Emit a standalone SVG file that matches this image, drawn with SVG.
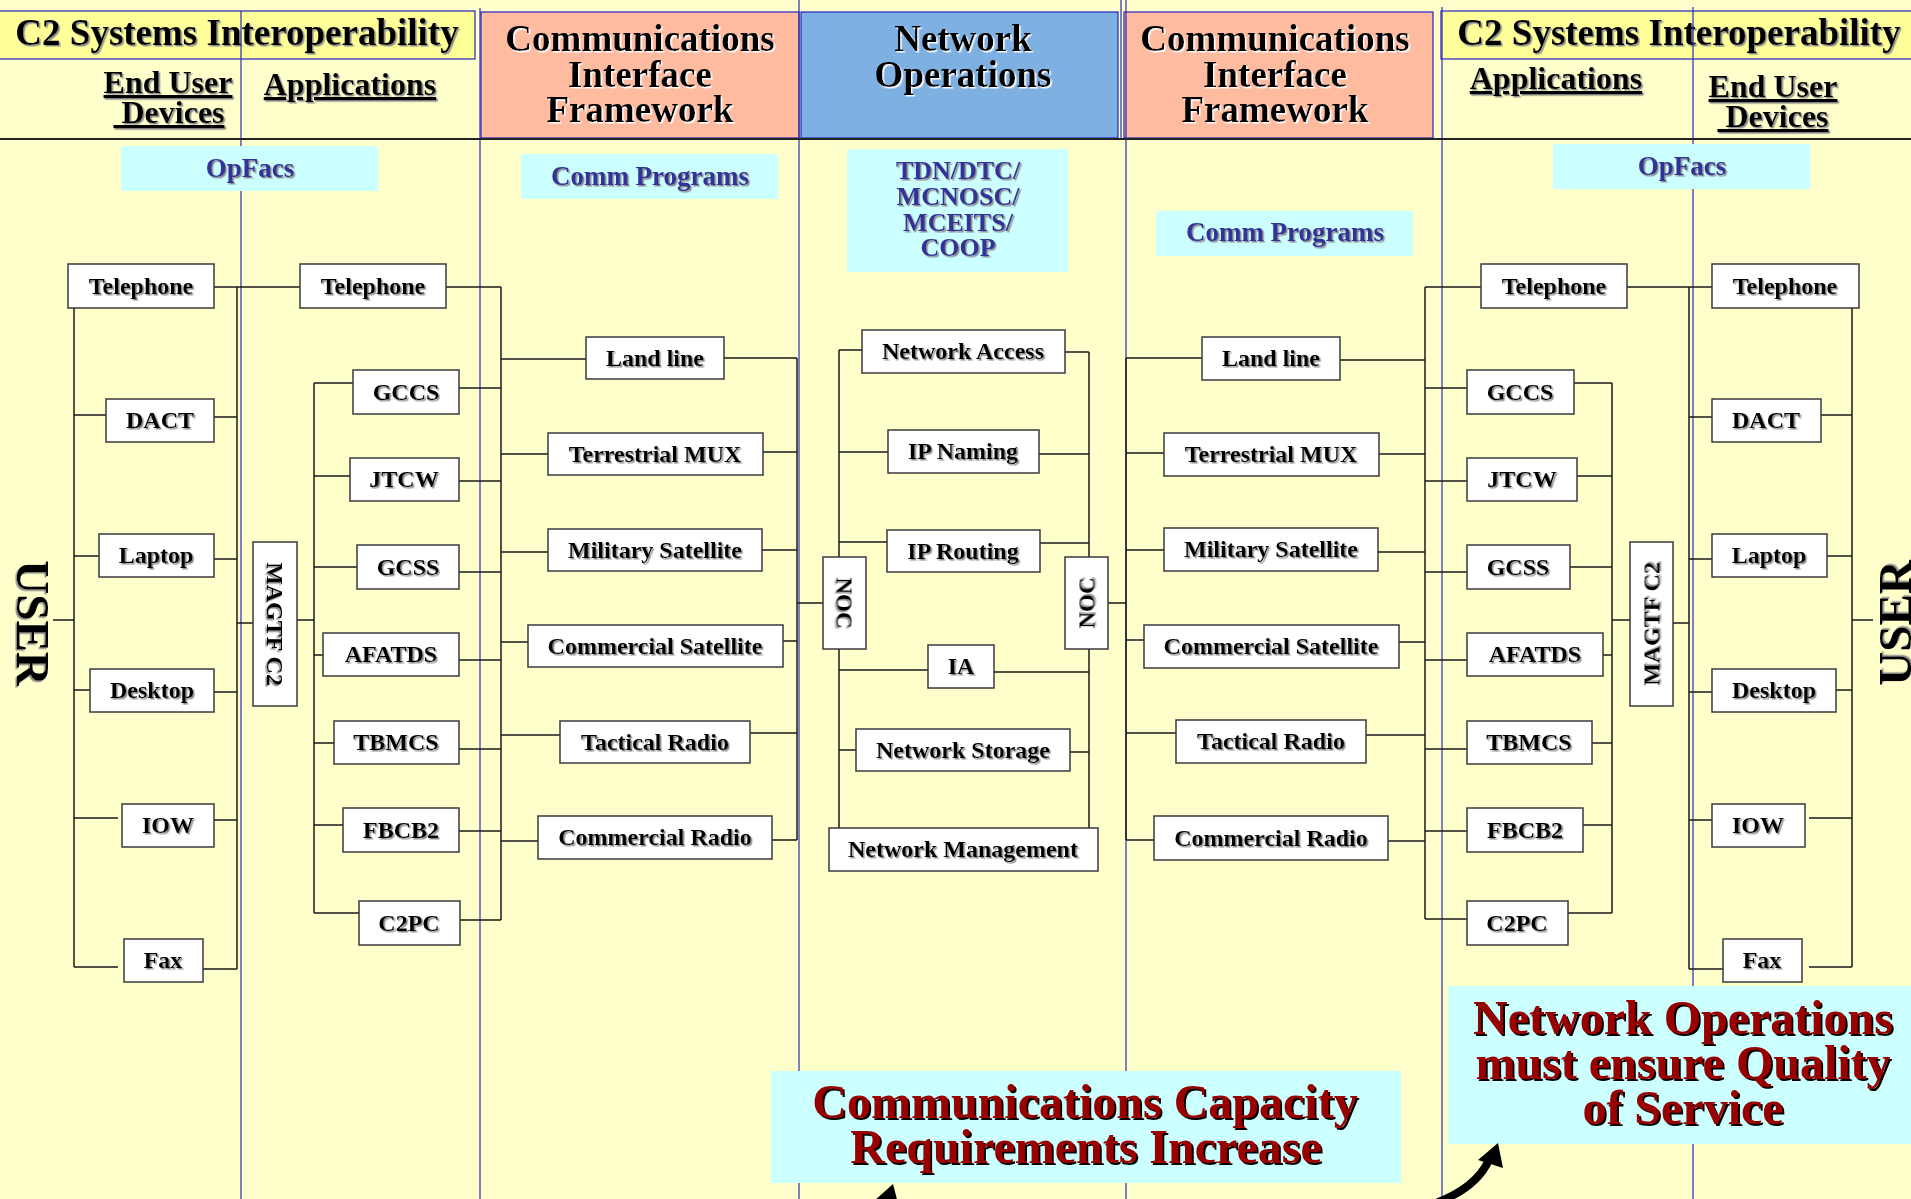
<svg xmlns="http://www.w3.org/2000/svg" width="1911" height="1199" viewBox="0 0 1911 1199">
<style>
.t{font-family:"Liberation Serif","Times New Roman",serif;font-weight:bold;text-anchor:middle}
.lbl{font-size:24px;fill:#000}
.bx{fill:#fff;stroke:#3a3a3a;stroke-width:1.5}
.cn{stroke:#1a1a1a;stroke-width:1.5;fill:none}
.dv{stroke:#2b2bb5;stroke-width:1.2}
.hd{stroke:#2323c0;stroke-width:1.2}
.cy{fill:#ccffff}
.blu{font-size:27px;fill:#333399}
.red{font-size:48px;fill:#990000}
.hdr{font-size:37px;fill:#000}
.sub{font-size:32px;fill:#000;text-decoration:underline}
</style>
<defs>
<filter id="shG" x="-10%" y="-10%" width="120%" height="130%"><feDropShadow dx="1.5" dy="1.5" stdDeviation="0.4" flood-color="#8a8a8a"/></filter>
<filter id="shW" x="-10%" y="-10%" width="120%" height="130%"><feDropShadow dx="1.5" dy="1.5" stdDeviation="0.3" flood-color="#ffffff"/></filter>
<filter id="shB" x="-10%" y="-10%" width="120%" height="130%"><feDropShadow dx="2" dy="2" stdDeviation="0.3" flood-color="#000000"/></filter>
</defs>
<rect x="0" y="0" width="1911" height="1199" fill="#ffffcc"/>

<!-- header cells -->
<g id="hdr-c2-left">
<rect x="-1" y="11" width="476" height="48" fill="#ffff99" class="hd"/>
<text class="t hdr" x="237" y="45" filter="url(#shG)">C2 Systems Interoperability</text>
<text class="t sub" x="168" y="93" filter="url(#shG)">End User</text>
<text class="t sub" x="169" y="123" filter="url(#shG)" style="white-space:pre"> Devices</text>
<text class="t sub" x="350" y="95" filter="url(#shG)">Applications</text>
</g>
<g id="hdr-comm-left">
<rect x="481" y="12" width="318" height="126" fill="#ffbba0" class="hd"/>
<text class="t hdr" x="640" y="51" filter="url(#shW)">Communications</text>
<text class="t hdr" x="640" y="87" filter="url(#shW)">Interface</text>
<text class="t hdr" x="640" y="122" filter="url(#shW)">Framework</text>
</g>
<g id="hdr-netops">
<rect x="801" y="12" width="317" height="126" fill="#7fb0e2" class="hd"/>
<text class="t hdr" x="963" y="51" filter="url(#shW)">Network</text>
<text class="t hdr" x="963" y="87" filter="url(#shW)">Operations</text>
</g>
<g id="hdr-comm-right">
<rect x="1124" y="12" width="309" height="126" fill="#ffbba0" class="hd"/>
<text class="t hdr" x="1275" y="51" filter="url(#shW)">Communications</text>
<text class="t hdr" x="1275" y="87" filter="url(#shW)">Interface</text>
<text class="t hdr" x="1275" y="122" filter="url(#shW)">Framework</text>
</g>
<g id="hdr-c2-right">
<rect x="1441" y="11" width="472" height="48" fill="#ffff99" class="hd"/>
<text class="t hdr" x="1679" y="45" filter="url(#shG)">C2 Systems Interoperability</text>
<text class="t sub" x="1556" y="89" filter="url(#shG)">Applications</text>
<text class="t sub" x="1773" y="97" filter="url(#shG)">End User</text>
<text class="t sub" x="1773" y="127" filter="url(#shG)" style="white-space:pre"> Devices</text>
</g>

<!-- column dividers -->
<g id="dividers">
<line class="dv" x1="241" y1="11" x2="241" y2="1199"/>
<line class="dv" x1="480" y1="8" x2="480" y2="1199"/>
<line class="dv" x1="799" y1="0" x2="799" y2="1199"/>
<line class="dv" x1="1121" y1="0" x2="1121" y2="139"/>
<line class="dv" x1="1126" y1="0" x2="1126" y2="1199"/>
<line class="dv" x1="1442" y1="7" x2="1442" y2="1199"/>
<line class="dv" x1="1693" y1="7" x2="1693" y2="1199"/>
<line x1="0" y1="139" x2="1911" y2="139" stroke="#222" stroke-width="2"/>
</g>

<!-- section labels -->
<g id="opfacs-left"><rect class="cy" x="121" y="146" width="257" height="45"/><text class="t blu" x="250" y="177" filter="url(#shG)">OpFacs</text></g>
<g id="commprog-left"><rect class="cy" x="521" y="154" width="257" height="45"/><text class="t blu" x="650" y="185" filter="url(#shG)">Comm Programs</text></g>
<g id="tdn"><rect class="cy" x="847" y="149" width="221" height="123"/>
<text class="t blu" x="958" y="179" style="font-size:26px" filter="url(#shG)">TDN/DTC/</text>
<text class="t blu" x="958" y="205" style="font-size:26px" filter="url(#shG)">MCNOSC/</text>
<text class="t blu" x="958" y="231" style="font-size:26px" filter="url(#shG)">MCEITS/</text>
<text class="t blu" x="958" y="256" style="font-size:26px" filter="url(#shG)">COOP</text></g>
<g id="commprog-right"><rect class="cy" x="1156" y="211" width="257" height="45"/><text class="t blu" x="1285" y="241" filter="url(#shG)">Comm Programs</text></g>
<g id="opfacs-right"><rect class="cy" x="1553" y="144" width="257" height="45"/><text class="t blu" x="1682" y="175" filter="url(#shG)">OpFacs</text></g>

<!-- connectors -->
<g id="connectors" class="cn">
<path d="M74 308V967M74 415H106M74 556H99M74 690H90M74 818H118M74 967H118M53 620H74"/>
<path d="M237 287V969M214 287H300M214 417H237M214 559H237M214 692H237M214 820H237M203 969H237M237 623H253"/>
<path d="M314 383V913M297 620H314M314 383H353M314 476H350M314 567H357M314 655H323M314 743H334M314 825H343M314 913H359"/>
<path d="M501 287V920M446 287H501M459 388H501M459 481H501M459 572H501M459 660H501M459 749H501M459 831H501M460 920H501"/>
<path d="M501 359H586M501 454H548M501 552H548M501 642H528M501 735H560M501 841H538"/>
<path d="M797 358V840M724 358H797M763 452H797M762 550H797M783 641H797M750 733H797M772 840H797M797 603H823"/>
<path d="M839 350V828M839 350H862M839 452H888M839 542H887M839 670H928M839 750H856"/>
<path d="M1089 352V828M1065 352H1089M1039 454H1089M1040 543H1089M994 672H1089M1070 752H1089M1108 603H1126"/>
<path d="M1126 358V840M1126 358H1202M1126 453H1164M1126 550H1164M1126 640H1144M1126 733H1176M1126 840H1154"/>
<path d="M1425 287V919M1340 360H1425M1379 454H1425M1378 552H1425M1399 642H1425M1366 735H1425M1388 841H1425"/>
<path d="M1425 287H1481M1425 388H1467M1425 481H1467M1425 572H1467M1425 660H1467M1425 749H1467M1425 831H1467M1425 919H1467"/>
<path d="M1612 383V913M1574 383H1612M1577 476H1612M1570 567H1612M1603 655H1612M1592 743H1612M1583 825H1612M1568 913H1612M1612 620H1630"/>
<path d="M1689 287V969M1627 287H1712M1673 623H1689M1689 417H1712M1689 559H1712M1689 692H1712M1689 820H1712M1689 969H1723"/>
<path d="M1852 308V967M1821 415H1852M1827 556H1852M1836 690H1852M1809 818H1852M1809 967H1852M1852 620H1873"/>
</g>

<!-- USER labels -->
<g id="user-left"><text class="t" x="0" y="16" transform="translate(33,623) rotate(90)" style="font-size:47px" filter="url(#shG)">USER</text></g>
<g id="user-right"><text class="t" x="0" y="16" transform="translate(1895,623) rotate(-90)" style="font-size:47px" filter="url(#shG)">USER</text></g>

<!-- left end user devices -->
<g id="dev-l-telephone"><rect class="bx" x="68" y="264" width="146" height="44"/><text class="t lbl" x="141" y="294" filter="url(#shG)">Telephone</text></g>
<g id="dev-l-dact"><rect class="bx" x="106" y="399" width="108" height="43"/><text class="t lbl" x="160" y="428" filter="url(#shG)">DACT</text></g>
<g id="dev-l-laptop"><rect class="bx" x="99" y="534" width="115" height="43"/><text class="t lbl" x="156" y="563" filter="url(#shG)">Laptop</text></g>
<g id="dev-l-desktop"><rect class="bx" x="90" y="669" width="124" height="43"/><text class="t lbl" x="152" y="698" filter="url(#shG)">Desktop</text></g>
<g id="dev-l-iow"><rect class="bx" x="122" y="804" width="92" height="43"/><text class="t lbl" x="168" y="833" filter="url(#shG)">IOW</text></g>
<g id="dev-l-fax"><rect class="bx" x="124" y="939" width="79" height="43"/><text class="t lbl" x="163" y="968" filter="url(#shG)">Fax</text></g>
<g id="magtf-l"><rect class="bx" x="253" y="542" width="44" height="164"/><text class="t lbl" x="0" y="8" transform="translate(275,624) rotate(90)" filter="url(#shG)">MAGTF C2</text></g>

<!-- left applications -->
<g id="app-l-telephone"><rect class="bx" x="300" y="264" width="146" height="44"/><text class="t lbl" x="373" y="294" filter="url(#shG)">Telephone</text></g>
<g id="app-l-gccs"><rect class="bx" x="353" y="370" width="106" height="44"/><text class="t lbl" x="406" y="400" filter="url(#shG)">GCCS</text></g>
<g id="app-l-jtcw"><rect class="bx" x="350" y="458" width="109" height="43"/><text class="t lbl" x="404" y="487" filter="url(#shG)">JTCW</text></g>
<g id="app-l-gcss"><rect class="bx" x="357" y="545" width="102" height="44"/><text class="t lbl" x="408" y="575" filter="url(#shG)">GCSS</text></g>
<g id="app-l-afatds"><rect class="bx" x="323" y="633" width="136" height="43"/><text class="t lbl" x="391" y="662" filter="url(#shG)">AFATDS</text></g>
<g id="app-l-tbmcs"><rect class="bx" x="334" y="721" width="125" height="43"/><text class="t lbl" x="396" y="750" filter="url(#shG)">TBMCS</text></g>
<g id="app-l-fbcb2"><rect class="bx" x="343" y="808" width="116" height="44"/><text class="t lbl" x="401" y="838" filter="url(#shG)">FBCB2</text></g>
<g id="app-l-c2pc"><rect class="bx" x="359" y="901" width="101" height="44"/><text class="t lbl" x="409" y="931" filter="url(#shG)">C2PC</text></g>

<!-- left comm links -->
<g id="com-l-land"><rect class="bx" x="586" y="337" width="138" height="42"/><text class="t lbl" x="655" y="366" filter="url(#shG)">Land line</text></g>
<g id="com-l-mux"><rect class="bx" x="548" y="433" width="215" height="42"/><text class="t lbl" x="655" y="462" filter="url(#shG)">Terrestrial MUX</text></g>
<g id="com-l-milsat"><rect class="bx" x="548" y="529" width="214" height="42"/><text class="t lbl" x="655" y="558" filter="url(#shG)">Military Satellite</text></g>
<g id="com-l-comsat"><rect class="bx" x="528" y="625" width="255" height="42"/><text class="t lbl" x="655" y="654" filter="url(#shG)">Commercial Satellite</text></g>
<g id="com-l-tac"><rect class="bx" x="560" y="721" width="190" height="42"/><text class="t lbl" x="655" y="750" filter="url(#shG)">Tactical Radio</text></g>
<g id="com-l-comradio"><rect class="bx" x="538" y="816" width="234" height="43"/><text class="t lbl" x="655" y="845" filter="url(#shG)">Commercial Radio</text></g>

<!-- network operations -->
<g id="noc-l"><rect class="bx" x="823" y="557" width="43" height="92"/><text class="t lbl" x="0" y="8" transform="translate(844.5,603) rotate(90)" style="font-size:23px" filter="url(#shG)">NOC</text></g>
<g id="net-access"><rect class="bx" x="862" y="330" width="203" height="43"/><text class="t lbl" x="963" y="359" filter="url(#shG)">Network Access</text></g>
<g id="ip-naming"><rect class="bx" x="888" y="430" width="151" height="43"/><text class="t lbl" x="963" y="459" filter="url(#shG)">IP Naming</text></g>
<g id="ip-routing"><rect class="bx" x="887" y="530" width="153" height="42"/><text class="t lbl" x="963" y="559" filter="url(#shG)">IP Routing</text></g>
<g id="ia"><rect class="bx" x="928" y="645" width="66" height="43"/><text class="t lbl" x="961" y="674" filter="url(#shG)">IA</text></g>
<g id="net-storage"><rect class="bx" x="856" y="729" width="214" height="42"/><text class="t lbl" x="963" y="758" filter="url(#shG)">Network Storage</text></g>
<g id="net-mgmt"><rect class="bx" x="829" y="828" width="269" height="43"/><text class="t lbl" x="963" y="857" filter="url(#shG)">Network Management</text></g>
<g id="noc-r"><rect class="bx" x="1065" y="557" width="43" height="92"/><text class="t lbl" x="0" y="8" transform="translate(1086.5,603) rotate(-90)" style="font-size:23px" filter="url(#shG)">NOC</text></g>

<!-- right comm links -->
<g id="com-r-land"><rect class="bx" x="1202" y="337" width="138" height="43"/><text class="t lbl" x="1271" y="366" filter="url(#shG)">Land line</text></g>
<g id="com-r-mux"><rect class="bx" x="1164" y="433" width="215" height="43"/><text class="t lbl" x="1271" y="462" filter="url(#shG)">Terrestrial MUX</text></g>
<g id="com-r-milsat"><rect class="bx" x="1164" y="528" width="214" height="43"/><text class="t lbl" x="1271" y="557" filter="url(#shG)">Military Satellite</text></g>
<g id="com-r-comsat"><rect class="bx" x="1144" y="625" width="255" height="43"/><text class="t lbl" x="1271" y="654" filter="url(#shG)">Commercial Satellite</text></g>
<g id="com-r-tac"><rect class="bx" x="1176" y="720" width="190" height="43"/><text class="t lbl" x="1271" y="749" filter="url(#shG)">Tactical Radio</text></g>
<g id="com-r-comradio"><rect class="bx" x="1154" y="816" width="234" height="44"/><text class="t lbl" x="1271" y="846" filter="url(#shG)">Commercial Radio</text></g>

<!-- right applications -->
<g id="app-r-telephone"><rect class="bx" x="1481" y="264" width="146" height="44"/><text class="t lbl" x="1554" y="294" filter="url(#shG)">Telephone</text></g>
<g id="app-r-gccs"><rect class="bx" x="1467" y="370" width="107" height="44"/><text class="t lbl" x="1520" y="400" filter="url(#shG)">GCCS</text></g>
<g id="app-r-jtcw"><rect class="bx" x="1467" y="458" width="110" height="43"/><text class="t lbl" x="1522" y="487" filter="url(#shG)">JTCW</text></g>
<g id="app-r-gcss"><rect class="bx" x="1467" y="545" width="103" height="44"/><text class="t lbl" x="1518" y="575" filter="url(#shG)">GCSS</text></g>
<g id="app-r-afatds"><rect class="bx" x="1467" y="633" width="136" height="43"/><text class="t lbl" x="1535" y="662" filter="url(#shG)">AFATDS</text></g>
<g id="app-r-tbmcs"><rect class="bx" x="1467" y="721" width="125" height="43"/><text class="t lbl" x="1529" y="750" filter="url(#shG)">TBMCS</text></g>
<g id="app-r-fbcb2"><rect class="bx" x="1467" y="808" width="116" height="44"/><text class="t lbl" x="1525" y="838" filter="url(#shG)">FBCB2</text></g>
<g id="app-r-c2pc"><rect class="bx" x="1467" y="901" width="101" height="44"/><text class="t lbl" x="1517" y="931" filter="url(#shG)">C2PC</text></g>
<g id="magtf-r"><rect class="bx" x="1630" y="542" width="43" height="164"/><text class="t lbl" x="0" y="8" transform="translate(1651.5,624) rotate(-90)" filter="url(#shG)">MAGTF C2</text></g>

<!-- right end user devices -->
<g id="dev-r-telephone"><rect class="bx" x="1712" y="264" width="147" height="44"/><text class="t lbl" x="1785" y="294" filter="url(#shG)">Telephone</text></g>
<g id="dev-r-dact"><rect class="bx" x="1712" y="399" width="109" height="43"/><text class="t lbl" x="1766" y="428" filter="url(#shG)">DACT</text></g>
<g id="dev-r-laptop"><rect class="bx" x="1712" y="534" width="115" height="43"/><text class="t lbl" x="1769" y="563" filter="url(#shG)">Laptop</text></g>
<g id="dev-r-desktop"><rect class="bx" x="1712" y="669" width="124" height="43"/><text class="t lbl" x="1774" y="698" filter="url(#shG)">Desktop</text></g>
<g id="dev-r-iow"><rect class="bx" x="1712" y="804" width="93" height="43"/><text class="t lbl" x="1758" y="833" filter="url(#shG)">IOW</text></g>
<g id="dev-r-fax"><rect class="bx" x="1723" y="939" width="79" height="43"/><text class="t lbl" x="1762" y="968" filter="url(#shG)">Fax</text></g>

<!-- callouts -->
<g id="callout-capacity"><rect class="cy" x="771" y="1071" width="630" height="112"/>
<text class="t red" x="1085" y="1118" filter="url(#shB)">Communications Capacity</text>
<text class="t red" x="1086" y="1163" filter="url(#shB)">Requirements Increase</text></g>
<g id="callout-qos"><rect class="cy" x="1448" y="986" width="464" height="158"/>
<text class="t red" x="1683" y="1034" filter="url(#shB)">Network Operations</text>
<text class="t red" x="1683" y="1079" filter="url(#shB)">must ensure Quality</text>
<text class="t red" x="1683" y="1124" filter="url(#shB)">of Service</text></g>

<!-- arrows -->
<g id="arrows">
<path d="M858 1216 Q878 1210 887 1199" fill="none" stroke="#000" stroke-width="8"/>
<polygon points="893,1184 874,1201 899,1207" fill="#000"/>
<path d="M1436 1203 Q1476 1188 1489 1160" fill="none" stroke="#000" stroke-width="8"/>
<polygon points="1498,1143 1478,1160 1503,1168" fill="#000"/>
</g>
</svg>
